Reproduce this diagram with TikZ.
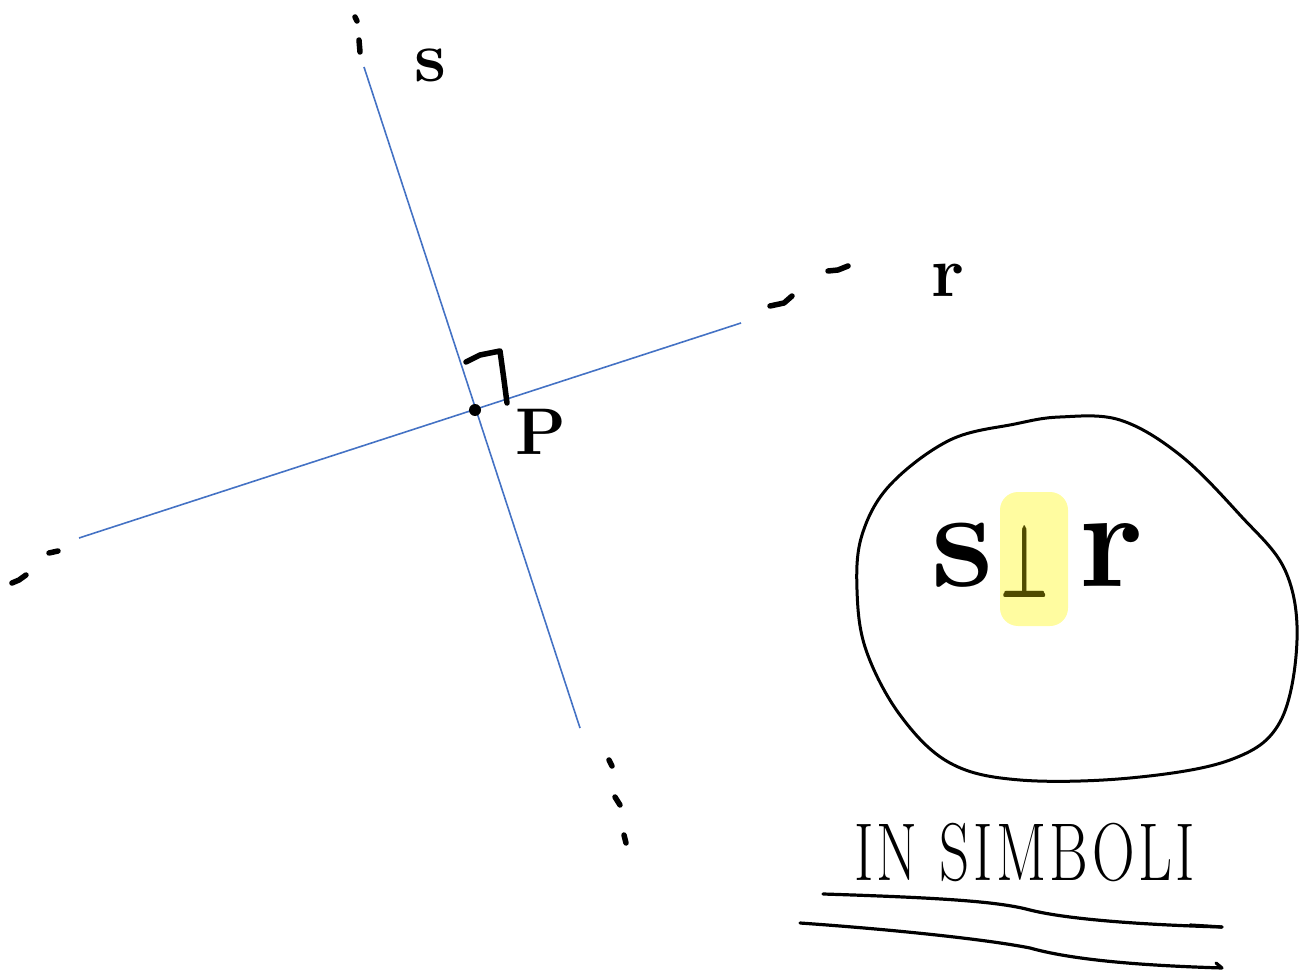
\documentclass[tikz,border=0pt]{standalone}
\usepackage{graphicx}
\usepackage{amsmath}
\definecolor{lineblue}{RGB}{68,114,196}
\definecolor{hl}{RGB}{255,252,160}
\definecolor{perpc}{RGB}{80,75,0}
\begin{document}
\begin{tikzpicture}[x=1pt,y=-1pt,
  ln/.style={draw=lineblue,line width=1.6pt},
  ink/.style={draw=black,line width=5.5pt,line cap=round,line join=round},
  inkthin/.style={draw=black,line width=3.2pt,line cap=round,line join=round},
  lbl/.style={inner sep=0pt,font=\fontsize{72}{72}\selectfont\bfseries}]
\useasboundingbox (0,0) rectangle (1299,976);
% the two lines
\coordinate (sA) at (364,67);
\coordinate (sB) at (580,728);
\coordinate (rA) at (79,538);
\coordinate (rB) at (741,323);
\coordinate (P) at (475,410);
\draw[ln] (sA) -- (sB);
\draw[ln] (rA) -- (rB);
% continuation dashes of s
\draw[ink] (355,17) -- (357,21);
\draw[ink] (359,40) -- (360,52);
\draw[ink] (609,760) -- (612,766);
\draw[ink] (615,797) -- (620,805);
\draw[ink] (624,835) -- (626,843);
% continuation dashes of r
\draw[ink] (770,306) -- (784,303) -- (792,296);
\draw[ink] (828,271) -- (838,270) -- (848,266);
\draw[ink] (12,583) -- (19,580) -- (26,575);
\draw[ink] (49,553) -- (58,551);
% right angle mark and point
\draw[ink] (466,362) -- (480,355) -- (500,351) -- (504,380) -- (507,403);
\node[circle,fill=black,inner sep=0pt,minimum size=12pt] (Pdot) at (P) {};
% labels
\node[lbl] (slbl) at (430,65) {s};
\node[lbl] (rlbl) at (948,280) {r};
\node[lbl,font=\fontsize{66}{66}\selectfont\bfseries] (Plbl) at (541,432) {P};
% bubble
\draw[black,line width=3pt] plot[smooth cycle,tension=0.6] coordinates {
 (1015,424) (950,440) (890,485) (862,535) (857,590) (866,650)
 (900,715) (950,763) (1020,780) (1130,778) (1230,760) (1280,722)
 (1297,640) (1285,570) (1240,515) (1180,455) (1120,420) (1060,417)};
\fill[hl,rounded corners=18pt] (1000,492) rectangle (1068,626);
\node[lbl,font=\fontsize{140}{140}\selectfont\bfseries] (s2) at (963,555) {s};
\node[lbl,font=\fontsize{140}{140}\selectfont\bfseries] (r2) at (1112,555) {r};
\node[inner sep=0pt,text=perpc] (perp) at (1026,560) {\scalebox{2.4}[4.2]{\fontsize{30}{30}\selectfont\pmb{$\perp$}}};
% IN SIMBOLI
\node[inner sep=0pt] (insimb) at (1025,852) {\scalebox{0.72}[1]{\fontsize{82}{82}\selectfont I\kern4pt N\kern30pt S\kern5pt I\kern5pt M\kern5pt B\kern5pt O\kern5pt L\kern5pt I}};
\draw[inkthin] (823,894) .. controls (950,898) and (1000,902) .. (1030,910)
  .. controls (1070,920) and (1150,925) .. (1222,927);
\draw[inkthin] (1190,925) -- (1222,927);
\draw[inkthin] (800,923) .. controls (900,930) and (990,940) .. (1030,948)
  .. controls (1080,962) and (1160,966) .. (1222,968) -- (1216,963);
\end{tikzpicture}
\end{document}
